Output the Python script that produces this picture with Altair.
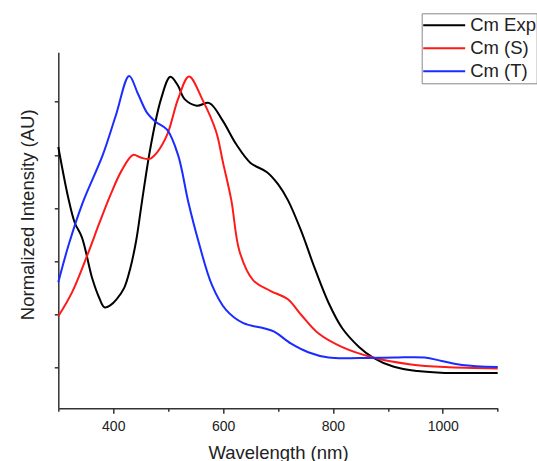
import altair as alt
import pandas as pd

# ---- data ----
series_names = ["Cm Exp", "Cm (S)", "Cm (T)"]
series_colors = ["#000000", "#ff1a1a", "#1a2cff"]

wl_exp = [300, 318, 330, 343, 362, 375, 384, 395, 406, 420, 431, 442, 452, 468, 487, 504,
          518, 530, 552, 575, 599, 624, 650, 680, 700, 718, 742, 767, 792, 817, 848, 873, 911,
          954, 1004, 1050, 1100]
int_exp = [0.83, 0.64, 0.545, 0.49, 0.334, 0.26, 0.227, 0.235, 0.257, 0.30, 0.373, 0.48,
           0.62, 0.83, 1.01, 1.094, 1.06, 1.01, 0.985, 0.995, 0.93, 0.84, 0.77, 0.735, 0.69,
           0.63, 0.515, 0.373, 0.244, 0.148, 0.077, 0.038, 0.003, -0.013, -0.02, -0.02, -0.02]

wl_s = [300, 325, 353, 375, 395, 415, 436, 450, 466, 480, 499, 518, 538, 562, 587, 600, 615,
        630, 655, 686, 718, 742, 774, 817, 873, 942, 1004, 1100]
int_s = [0.193, 0.283, 0.424, 0.545, 0.65, 0.74, 0.80, 0.79, 0.785, 0.81, 0.88, 1.01, 1.095,
         1.01, 0.89, 0.77, 0.63, 0.437, 0.328, 0.289, 0.257, 0.199, 0.128, 0.077, 0.038, 0.012,
         0.002, -0.003]

wl_t = [300, 319, 344, 381, 405, 429, 445, 462, 477, 498, 518, 537, 555, 580, 605, 637, 674,
        693, 724, 755, 792, 848, 911, 967, 998, 1035, 1100]
int_t = [0.321, 0.463, 0.618, 0.80, 0.95, 1.097, 1.03, 0.957, 0.925, 0.895, 0.80, 0.62, 0.476,
         0.309, 0.218, 0.167, 0.148, 0.135, 0.09, 0.058, 0.038, 0.036, 0.038, 0.038, 0.025,
         0.01, 0.002]

x_major = [400, 600, 800, 1000]
x_minor = [300, 500, 700, 900, 1100]
y_ticks = [0, 0.2, 0.4, 0.6, 0.8, 1.0]

rows = []
for k, (name, wls, vals) in enumerate(zip(series_names, [wl_exp, wl_s, wl_t], [int_exp, int_s, int_t])):
    for w, v in zip(wls, vals):
        rows.append({"wavelength": w, "intensity": v, "series": name, "k": k})
df = pd.DataFrame(rows)

FONT = "Liberation Sans"
TXT = "#222222"
x_scale = alt.Scale(domain=[300, 1100], nice=False, zero=False)
y_scale = alt.Scale(domain=[-0.153, 1.186], nice=False, zero=False)

y_axis = alt.Axis(values=y_ticks, labels=False, tickSize=4, tickWidth=1.5,
                  tickColor="#333", domainColor="#333", domainWidth=1.5, grid=False,
                  title="Normalized Intensity (AU)", titleFont=FONT, titleFontSize=18.5,
                  titleFontWeight="normal", titleColor=TXT, titleAngle=-90,
                  titleX=-25.3, titleY=162, titleAlign="center",
                  titleBaseline="alphabetic")

lines = alt.Chart(df).mark_line(strokeWidth=2, interpolate="catmull-rom").encode(
    x=alt.X("wavelength:Q", scale=x_scale,
            axis=alt.Axis(values=x_major, format="d", tickSize=5, tickWidth=1.5, tickColor="#333",
                          domainColor="#333", domainWidth=1.5, grid=False,
                          labelFont=FONT, labelFontSize=14, labelColor=TXT, labelPadding=6,
                          title="Wavelength (nm)", titleFont=FONT, titleFontSize=18.5,
                          titleFontWeight="normal", titleColor=TXT, titleX=219.7, titleY=49.7,
                          titleAlign="center", titleBaseline="alphabetic")),
    y=alt.Y("intensity:Q", scale=y_scale, axis=y_axis),
    color=alt.Color("series:N", scale=alt.Scale(domain=series_names, range=series_colors),
                    legend=alt.Legend(title=None, orient="none", legendX=363.4, legendY=-39,
                                      symbolType="stroke", symbolSize=1764, symbolStrokeWidth=2,
                                      labelFont=FONT, labelFontSize=18.5, labelColor=TXT,
                                      strokeColor="#888888", fillColor="white", padding=0.5,
                                      clipHeight=23, rowPadding=0, labelOffset=4,
                                      cornerRadius=0)),
    order=alt.Order("k:Q"),
)

minor = alt.Chart(df).mark_line(opacity=0).encode(
    x=alt.X("wavelength:Q", scale=x_scale,
            axis=alt.Axis(values=x_minor, orient="bottom", tickSize=3, tickWidth=1.5,
                          tickColor="#333", domain=False, labels=False, grid=False, title=None)),
    y=alt.Y("intensity:Q", scale=y_scale, axis=y_axis),
)

chart = alt.layer(lines, minor).resolve_axis(x="independent").properties(
    width=439.4, height=356,
    padding={"left": 58.3, "top": 52.3, "right": 39.3, "bottom": 52.7},
    autosize=alt.AutoSizeParams(type="none"),
    background="white",
).configure_view(stroke=None)

chart.save("out.html", embed_options={"renderer": "svg", "actions": False})
